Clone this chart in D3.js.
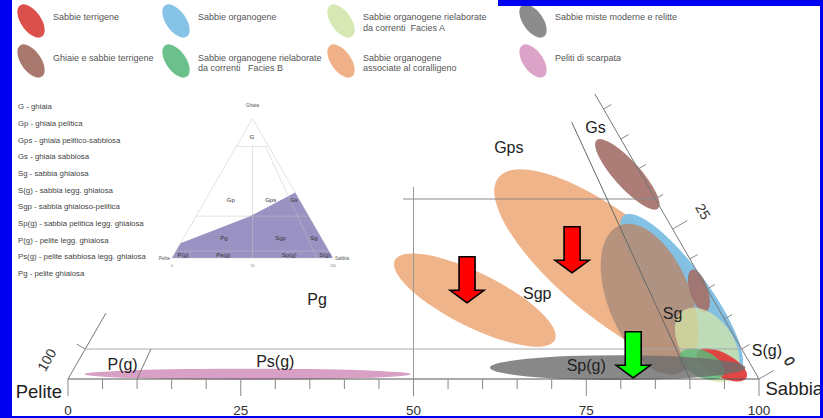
<!DOCTYPE html>
<html>
<head>
<meta charset="utf-8">
<script src="https://cdn.jsdelivr.net/npm/d3@7"></script>
<style>
  body { margin: 0; background: #fff; }
  svg text { font-family: "Liberation Sans", Arial, sans-serif; }
</style>
</head>
<body>
<div id="chart"></div>
<script>
// ---- legend ----
var legendText = [
  ["Sabbie terrigene"],
  ["Sabbie organogene"],
  ["Sabbie organogene rielaborate", "da correnti  Facies A"],
  ["Sabbie miste moderne e relitte"],
  ["Ghiaie e sabbie terrigene"],
  ["Sabbie organogene rielaborate", "da correnti   Facies B"],
  ["Sabbie organogene", "associate al coralligeno"],
  ["Peliti di scarpata"]
];
var legendColor = ["#dc504b", "#87c3e6", "#d8e8b4", "#8c8c8c", "#a8786e", "#6cc08c", "#f0b088", "#dca3c8"];

// ---- class codes (left list) ----
var classList = [
  "G - ghiaia",
  "Gp - ghiaia pelitica",
  "Gps - ghiaia pelitico-sabbiosa",
  "Gs - ghiaia sabbiosa",
  "Sg - sabbia ghiaiosa",
  "S(g) - sabbia legg. ghiaiosa",
  "Sgp - sabbia ghiaioso-pelitica",
  "Sp(g) - sabbia pelitica legg. ghiaiosa",
  "P(g) - pelite legg. ghiaiosa",
  "Ps(g) - pelite sabbiosa legg. ghiaiosa",
  "Pg - pelite ghiaiosa"
];

// ---- inset ternary (sand %, gravel %) ----
var insetZone = ["G", "Gp", "Gps", "Gs", "Pg", "Sgp", "Sg", "P(g)", "Ps(g)", "Sp(g)", "S(g)"];
var insetZoneSand = [6.2, 15.7, 40.5, 55, 25, 60.2, 80.9, 5.9, 30.8, 71.6, 93.9];
var insetZoneGravel = [86.9, 41.6, 41.6, 41.6, 14.5, 14.5, 14.5, 2.2, 2.2, 2.2, 2.2];
var insetFieldSand = [0, 0, 33, 53, 100];
var insetFieldGravel = [0, 10.5, 29.5, 47, 0];
var insetLines = [[0, 0, 100, 0], [0, 0, 0, 100], [100, 0, 0, 100], [0, 80, 20, 80], [0, 30, 70, 30],
                  [0, 5, 95, 5], [50, 0, 10, 80], [90, 0, 18, 80], [10, 0, 9.5, 5]];

// ---- main diagram: facies fields as ellipses, major axis ends (sand %, gravel %) + half width (%) ----
var fieldKind    = ["coral", "coral", "organo", "mixedOver", "gravel", "gravel", "faciesA", "terr", "faciesB", "mixed", "scarp"];
var fieldSand1   = [45.5, 37.4, 66.8, 67.0, 56.6, 81.2, 83.3, 88.8, 86.5, 60.1, 2.0];
var fieldGravel1 = [33.6, 19.8, 27.3, 25.6, 39.8, 18.2, 11.4, 4.5, 4.2, 1.9, 0.8];
var fieldSand2   = [95.1, 67.2, 96.5, 88.0, 71.2, 86.7, 96.0, 98.1, 94.5, 97.1, 49.2];
var fieldGravel2 = [2.4, 6.5, 1.3, 1.0, 28.4, 11.2, 0.0, 0.2, 0.8, 1.9, 0.8];
var fieldHalf    = [7.4, 3.9, 3.8, 6.0, 1.9, 1.3, 3.8, 1.7, 1.9, 1.8, 0.8];

// ---- class boundaries in the main diagram ----
var mainLines = [[0, 0, 100, 0], [0, 0, 0, 11], [100, 0, 52.5, 47.5], [0, 5, 95, 5],
                 [33.5, 30, 70, 30], [50, 0, 34, 32], [90, 0, 51.5, 42.8], [10, 0, 9.5, 5]];

// ---- zone labels ----
var zoneName   = ["Gs", "Gps", "Sgp", "Sg", "Sp(g)", "S(g)", "Pg", "P(g)", "Ps(g)"];
var zoneSand   = [55.4, 44.5, 60.8, 82.0, 73.9, 98.8, 29.4, 6.7, 28.5];
var zoneGravel = [41.9, 38.6, 14.2, 11.0, 2.2, 4.7, 13.3, 2.4, 3.0];

// ---- arrows (tip position) ----
var arrowSand   = [51.4, 64.1, 81.7];
var arrowGravel = [12.7, 17.7, 0.2];
var arrowColor  = ["#ff0000", "#ff0000", "#00ff00"];

// ---- axes ----
var baseTicks = d3.range(0, 101, 5);
var baseLabels = [0, 25, 50, 75, 100];
var edgeTicks = d3.range(0, 46, 5);
var edgeLabels = [0, 25];

// styles
var fieldStyle = {
  coral: ["#f0b48a", 1], organo: ["#7fbfe4", 0.97], mixedOver: ["#b38f7b", 0.93],
  gravel: ["#a36f67", 0.9], faciesA: ["#d6e8a8", 0.72], terr: ["#e03c3c", 0.95],
  faciesB: ["#5fb97c", 0.85], mixed: ["#6e6e6e", 0.82], scarp: ["#d8a0c4", 1]
};
var lineStyle = ["#555", "#777", "#777", "#aaa", "#888", "#999", "#666", "#777"];

var w = 823, h = 418;
var svg = d3.select("#chart").append("svg").attr("width", w).attr("height", h);
svg.append("rect").attr("width", w).attr("height", h).attr("fill", "#fff");

// legend
var colX = [31, 176, 341, 533], rowY = [21, 61], rowText = [17, 57.5];
var leg = svg.append("g");
legendText.forEach(function(lines, i) {
  var cx = colX[i % 4], r = Math.floor(i / 4);
  leg.append("ellipse")
     .attr("cx", cx).attr("cy", rowY[r])
     .attr("rx", 19).attr("ry", 10)
     .attr("transform", "rotate(55," + cx + "," + rowY[r] + ")")
     .attr("fill", legendColor[i]);
  lines.forEach(function(t, k) {
    leg.append("text")
       .attr("x", cx + 22).attr("y", rowText[r] + k * 10.5)
       .attr("dy", "0.35em")
       .style("white-space", "pre")
       .attr("font-size", 9).attr("fill", "#555")
       .text(t);
  });
});

// list
svg.append("g").selectAll("text")
   .data(classList).enter().append("text")
   .attr("x", 18).attr("y", function(d, i) { return 106.7 + i * 16.65; })
   .attr("dy", "0.35em").attr("font-size", 7.8).attr("fill", "#444")
   .text(function(d) { return d; });

// inset ternary
var xi = d3.scaleLinear().domain([0, 100]).range([172, 333]);
var yi = d3.scaleLinear().domain([0, 100]).range([258, 118.5]);
function pi(s, g) { return [xi(s + g / 2), yi(g)]; }
var inset = svg.append("g");
inset.append("path")
     .attr("d", d3.line()(insetFieldSand.map(function(s, i) { return pi(s, insetFieldGravel[i]); })) + "Z")
     .attr("fill", "#958cc0").attr("opacity", 0.95);
inset.selectAll("line").data(insetLines).enter().append("line")
     .attr("x1", function(d) { return pi(d[0], d[1])[0]; })
     .attr("y1", function(d) { return pi(d[0], d[1])[1]; })
     .attr("x2", function(d) { return pi(d[2], d[3])[0]; })
     .attr("y2", function(d) { return pi(d[2], d[3])[1]; })
     .attr("stroke", "#c4c4c4").attr("stroke-width", 0.6).attr("opacity", 0.8);
inset.selectAll("text.z").data(insetZone).enter().append("text")
     .attr("class", "z")
     .attr("x", function(d, i) { return pi(insetZoneSand[i], insetZoneGravel[i])[0]; })
     .attr("y", function(d, i) { return pi(insetZoneSand[i], insetZoneGravel[i])[1]; })
     .attr("dy", "0.35em").attr("text-anchor", "middle")
     .attr("font-size", 6).attr("fill", "#333")
     .text(function(d) { return d; });
inset.append("text").attr("x", pi(0, 100)[0]).attr("y", pi(0, 100)[1] - 12)
     .attr("text-anchor", "middle").attr("font-size", 4.5).attr("fill", "#555").text("Ghiaia");
inset.append("text").attr("x", pi(0, 0)[0] - 2).attr("y", pi(0, 0)[1] + 2)
     .attr("text-anchor", "end").attr("font-size", 4.5).attr("fill", "#555").text("Pelite");
inset.append("text").attr("x", pi(100, 0)[0] + 2).attr("y", pi(100, 0)[1] + 2)
     .attr("font-size", 4.5).attr("fill", "#555").text("Sabbia");
inset.selectAll("text.b").data([0, 50, 100]).enter().append("text")
     .attr("class", "b")
     .attr("x", function(d) { return xi(d); }).attr("y", yi(0) + 8.5)
     .attr("text-anchor", "middle").attr("font-size", 3.5).attr("fill", "#777")
     .text(function(d) { return d; });

// main ternary (only the lower part is visible)
var xs = d3.scaleLinear().domain([0, 100]).range([68, 759]);
var ys = d3.scaleLinear().domain([0, 100]).range([379, -221]);
function P(s, g) { return [xs(s + g / 2), ys(g)]; }
var unit = xs(1) - xs(0);

var fields = svg.append("g");
fieldKind.forEach(function(k, i) {
  var p1 = P(fieldSand1[i], fieldGravel1[i]);
  var p2 = P(fieldSand2[i], fieldGravel2[i]);
  var cx = (p1[0] + p2[0]) / 2, cy = (p1[1] + p2[1]) / 2;
  var a = Math.hypot(p2[0] - p1[0], p2[1] - p1[1]) / 2;
  var ang = Math.atan2(p2[1] - p1[1], p2[0] - p1[0]) * 180 / Math.PI;
  fields.append("ellipse")
        .attr("cx", cx).attr("cy", cy)
        .attr("rx", a).attr("ry", fieldHalf[i] * unit)
        .attr("transform", "rotate(" + ang + "," + cx + "," + cy + ")")
        .attr("fill", fieldStyle[k][0]).attr("fill-opacity", fieldStyle[k][1]);
});

var grid = svg.append("g");
grid.selectAll("line").data(mainLines).enter().append("line")
    .attr("x1", function(d) { return P(d[0], d[1])[0]; })
    .attr("y1", function(d) { return P(d[0], d[1])[1]; })
    .attr("x2", function(d) { return P(d[2], d[3])[0]; })
    .attr("y2", function(d) { return P(d[2], d[3])[1]; })
    .attr("stroke", function(d, i) { return lineStyle[i]; })
    .attr("stroke-width", 1);

// base ticks
grid.selectAll("line.bt").data(baseTicks).enter().append("line")
    .attr("class", "bt")
    .attr("x1", function(d) { return xs(d); }).attr("x2", function(d) { return xs(d); })
    .attr("y1", ys(0))
    .attr("y2", function(d) { return ys(0) + (d % 25 === 0 ? 17 : 10); })
    .attr("stroke", "#888");
grid.selectAll("text.bl").data(baseLabels).enter().append("text")
    .attr("class", "bl")
    .attr("x", function(d) { return xs(d); }).attr("y", ys(0) + 36)
    .attr("text-anchor", "middle").attr("font-size", 13.5).attr("fill", "#333")
    .text(function(d) { return d; });

// right edge ticks (gravel), normal pointing outward
var nR = [0.866, -0.5];
grid.selectAll("line.rt").data(edgeTicks).enter().append("line")
    .attr("class", "rt")
    .attr("x1", function(d) { return P(100 - d, d)[0]; })
    .attr("y1", function(d) { return P(100 - d, d)[1]; })
    .attr("x2", function(d) { return P(100 - d, d)[0] + nR[0] * (d % 25 === 0 ? 17 : 9); })
    .attr("y2", function(d) { return P(100 - d, d)[1] + nR[1] * (d % 25 === 0 ? 17 : 9); })
    .attr("stroke", "#888");
grid.selectAll("text.rl").data(edgeLabels).enter().append("text")
    .attr("class", "rl")
    .attr("transform", function(d) {
      var p = P(100 - d, d);
      return "translate(" + (p[0] + nR[0] * 35) + "," + (p[1] + nR[1] * 35) + ") rotate(60)";
    })
    .attr("text-anchor", "middle").attr("dy", "0.35em")
    .attr("font-size", 14).attr("fill", "#333")
    .text(function(d) { return d; });

// left edge tick and label
var nL = [-0.866, -0.5];
var pl = P(0, 5);
grid.append("line")
    .attr("x1", pl[0]).attr("y1", pl[1])
    .attr("x2", pl[0] + nL[0] * 10).attr("y2", pl[1] + nL[1] * 10)
    .attr("stroke", "#888");
var p0 = P(0, 0);
grid.append("text")
    .attr("transform", "translate(" + (p0[0] + nL[0] * 28 + 3) + "," + (p0[1] + nL[1] * 28 - 5) + ") rotate(-60)")
    .attr("text-anchor", "middle").attr("dy", "0.35em")
    .attr("font-size", 14).attr("fill", "#333").text("100");

// corner names
svg.append("text").attr("x", p0[0] - 6).attr("y", p0[1] + 18.5)
   .attr("text-anchor", "end").attr("font-size", 18.5).attr("fill", "#222").text("Pelite");
var p100 = P(100, 0);
svg.append("text").attr("x", p100[0] + 6.5).attr("y", p100[1] + 16)
   .attr("font-size", 18.5).attr("fill", "#222").text("Sabbia");

// zone labels
svg.append("g").selectAll("text").data(zoneName).enter().append("text")
   .attr("x", function(d, i) { return P(zoneSand[i], zoneGravel[i])[0]; })
   .attr("y", function(d, i) { return P(zoneSand[i], zoneGravel[i])[1]; })
   .attr("dy", "0.35em").attr("text-anchor", "middle")
   .attr("font-size", 16).attr("fill", "#222")
   .text(function(d) { return d; });
// rotated zero after S(g)
var sg = P(zoneSand[5], zoneGravel[5]);
svg.append("text")
   .attr("transform", "translate(" + (sg[0] + 23) + "," + (sg[1] + 10) + ") rotate(60)")
   .attr("text-anchor", "middle").attr("dy", "0.35em")
   .attr("font-size", 14).attr("fill", "#333").text("0");

// arrows
var arrowShape = "M0,0L-17,-12.5L-8,-12.5L-8,-46L8,-46L8,-12.5L17,-12.5Z";
svg.append("g").selectAll("path").data(arrowSand).enter().append("path")
   .attr("d", arrowShape)
   .attr("transform", function(d, i) { var p = P(d, arrowGravel[i]); return "translate(" + p[0] + "," + p[1] + ")"; })
   .attr("fill", function(d, i) { return arrowColor[i]; })
   .attr("stroke", "#000").attr("stroke-width", 1.6).attr("stroke-linejoin", "miter");

// blue frame of the screenshot
var frame = svg.append("g").attr("fill", "#0000f0");
frame.append("rect").attr("x", 0).attr("y", 0).attr("width", 12).attr("height", h);
frame.append("rect").attr("x", 498).attr("y", 0).attr("width", w - 498).attr("height", 6);
frame.append("rect").attr("x", 820).attr("y", 0).attr("width", 3).attr("height", h);
frame.append("rect").attr("x", 12).attr("y", 416).attr("width", w - 12).attr("height", 2);
</script>
</body>
</html>
